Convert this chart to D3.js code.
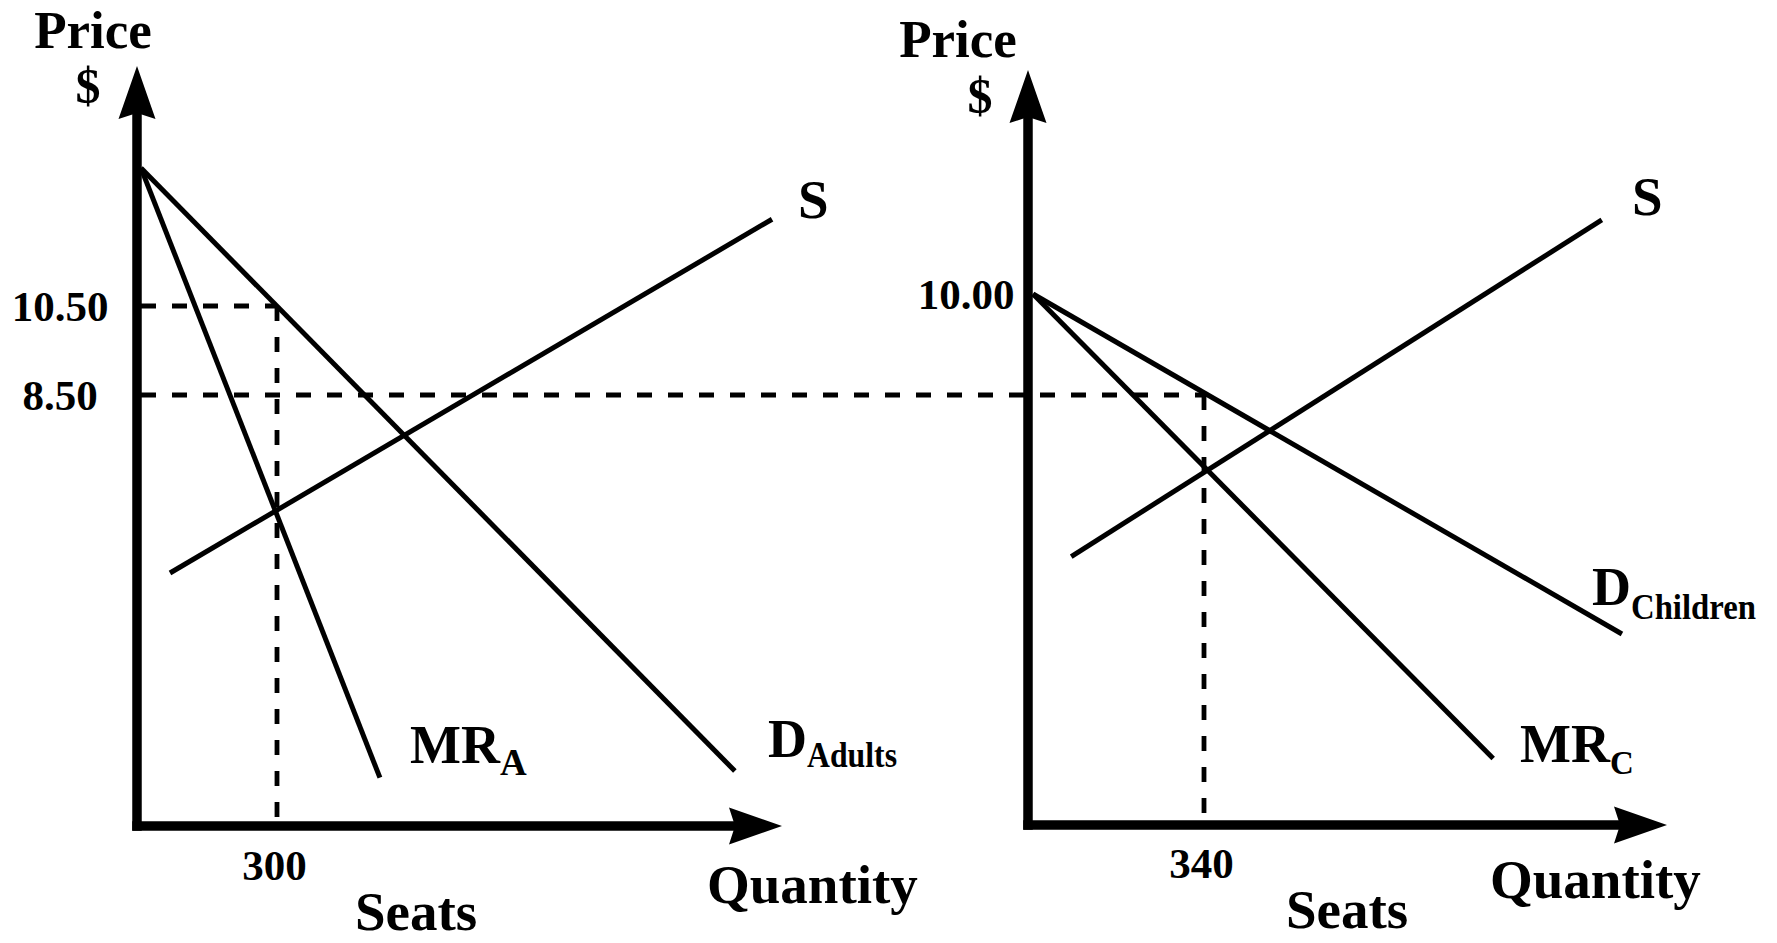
<!DOCTYPE html>
<html>
<head>
<meta charset="utf-8">
<script src="https://cdn.jsdelivr.net/npm/d3@7"></script>
<style>
  html, body { margin: 0; padding: 0; background: #fff; }
  svg { display: block; }
  text { font-family: "Liberation Serif", "Times New Roman", Times, serif; font-weight: bold; fill: #000; }
</style>
</head>
<body>
<svg id="chart" width="1777" height="943"></svg>
<script>
// ---------------- DATA ----------------
// Left panel: Adults market
const adultDemand = [{q: 0, p: 13.6}, {q: 1310, p: 0.05}];
const adultMR     = [{q: 0, p: 13.6}, {q: 527,  p: -0.1}];
const adultSupply = [{q: 64, p: 4.5}, {q: 1392, p: 12.45}];
const adultPriceTicks = [10.5, 8.5];
const adultQtyTicks   = [300];
const adultOptimum    = {q: 300, p: 10.5};

// Right panel: Children market
const childDemand = [{q: 0, p: 10}, {q: 1171, p: 4.95}];
const childMR     = [{q: 0, p: 10}, {q: 915,  p: 3.1}];
const childSupply = [{q: 76, p: 6.1}, {q: 1131, p: 11.1}];
const childPriceTicks = [10];
const childQtyTicks   = [340];
const childOptimum    = {q: 340, p: 8.5};

// Labels
const demandLabels = ["Adults", "Children"];
const mrLabels = ["A", "C"];

// ---------------- LAYOUT ----------------
const svg = d3.select("#chart");
svg.append("rect").attr("width", 1777).attr("height", 943).attr("fill", "#fff");

const panels = [
  {
    demand: adultDemand, mr: adultMR, supply: adultSupply,
    priceTicks: adultPriceTicks, qtyTicks: adultQtyTicks, opt: adultOptimum,
    dLabel: demandLabels[0], mrSub: mrLabels[0],
    x: d3.scaleLinear().domain([0, 300]).range([141, 277]),
    y: d3.scaleLinear().domain([8.5, 10.5]).range([395, 306]),
    axX: 137, axY: 826, topY: 66, rightX: 782,
    priceLbl: [93, 48], dollarLbl: [88, 103],
    yTickCx: 60,
    sLbl: [798, 218],
    mrLbl: [410, 763], mrSubSize: 37,
    dLbl: [768, 757], dSubDy: 10, dSubW: 90,
    qtyLbl: [707, 903], seatsLbl: [416, 930],
    xTickBase: 880, xTickDx: -3
  },
  {
    demand: childDemand, mr: childMR, supply: childSupply,
    priceTicks: childPriceTicks, qtyTicks: childQtyTicks, opt: childOptimum,
    dLabel: demandLabels[1], mrSub: mrLabels[1],
    x: d3.scaleLinear().domain([0, 340]).range([1033, 1204]),
    y: d3.scaleLinear().domain([8.5, 10]).range([395, 294]),
    axX: 1028, axY: 825, topY: 70, rightX: 1667,
    priceLbl: [958, 57], dollarLbl: [980, 113],
    yTickCx: 966,
    sLbl: [1632, 215],
    mrLbl: [1520, 762], mrSubSize: 33,
    dLbl: [1592, 605], dSubDy: 14, dSubW: 125,
    qtyLbl: [1490, 898], seatsLbl: [1347, 928],
    xTickBase: 878, xTickDx: -3
  }
];

const lineW = 5, axisW = 9.5, dash = "15,16", dashW = 4.8;

// 8.50 dashed line spanning both panels (adult y-axis to child optimum)
svg.append("line")
  .attr("x1", panels[0].axX + 4).attr("x2", panels[1].x(childOptimum.q))
  .attr("y1", panels[1].y(childOptimum.p)).attr("y2", panels[1].y(childOptimum.p))
  .attr("stroke", "#000").attr("stroke-width", dashW).attr("stroke-dasharray", dash);

panels.forEach((P, i) => {
  const g = svg.append("g");
  const line = d3.line().x(d => P.x(d.q)).y(d => P.y(d.p));

  // dashed guides
  if (i === 0) {
    g.append("line")
      .attr("x1", P.axX + 4).attr("x2", P.x(P.opt.q))
      .attr("y1", P.y(P.opt.p)).attr("y2", P.y(P.opt.p))
      .attr("stroke", "#000").attr("stroke-width", dashW).attr("stroke-dasharray", dash);
  }
  g.append("line")
    .attr("x1", P.x(P.opt.q)).attr("x2", P.x(P.opt.q))
    .attr("y1", P.y(P.opt.p)).attr("y2", P.axY)
    .attr("stroke", "#000").attr("stroke-width", dashW).attr("stroke-dasharray", dash);

  // curves
  [P.demand, P.mr, P.supply].forEach(dat => {
    g.append("path").attr("d", line(dat))
      .attr("fill", "none").attr("stroke", "#000").attr("stroke-width", lineW);
  });

  // axes lines
  g.append("line").attr("x1", P.axX).attr("x2", P.axX)
    .attr("y1", P.axY + axisW / 2).attr("y2", P.topY + 40)
    .attr("stroke", "#000").attr("stroke-width", axisW);
  g.append("line").attr("x1", P.axX - axisW / 2).attr("x2", P.rightX - 40)
    .attr("y1", P.axY).attr("y2", P.axY)
    .attr("stroke", "#000").attr("stroke-width", axisW);
  // arrowheads
  const ah = 53, hw = 18.5, notch = 6;
  g.append("path")
    .attr("d", `M${P.axX},${P.topY} L${P.axX + hw},${P.topY + ah} L${P.axX},${P.topY + ah - notch} L${P.axX - hw},${P.topY + ah} Z`)
    .attr("fill", "#000");
  g.append("path")
    .attr("d", `M${P.rightX},${P.axY} L${P.rightX - ah},${P.axY + hw} L${P.rightX - ah + notch},${P.axY} L${P.rightX - ah},${P.axY - hw} Z`)
    .attr("fill", "#000");

  // tick labels via d3 axes
  const yAxis = d3.axisLeft(P.y).tickValues(P.priceTicks).tickSize(0).tickFormat(d3.format(".2f"));
  const ya = g.append("g").attr("transform", `translate(${P.axX},0)`).call(yAxis);
  ya.select(".domain").remove();
  ya.selectAll("text")
    .attr("x", P.yTickCx - P.axX).attr("text-anchor", "middle").attr("dy", "0.33em")
    .style("font-size", "43px").style("font-family", '"Liberation Serif", "Times New Roman", serif')
    .style("font-weight", "bold").attr("fill", "#000");

  const xAxis = d3.axisBottom(P.x).tickValues(P.qtyTicks).tickSize(0);
  const xa = g.append("g").attr("transform", `translate(${P.xTickDx},${P.axY})`).call(xAxis);
  xa.select(".domain").remove();
  xa.selectAll("text")
    .attr("y", P.xTickBase - P.axY).attr("dy", "0")
    .style("font-size", "43px").style("font-family", '"Liberation Serif", "Times New Roman", serif')
    .style("font-weight", "bold").attr("fill", "#000");

  // axis titles
  g.append("text").attr("x", P.priceLbl[0]).attr("y", P.priceLbl[1])
    .attr("text-anchor", "middle").style("font-size", "53px").text("Price");
  g.append("text").attr("x", P.dollarLbl[0]).attr("y", P.dollarLbl[1])
    .attr("text-anchor", "middle").style("font-size", "50px").text("$");
  g.append("text").attr("x", P.qtyLbl[0]).attr("y", P.qtyLbl[1])
    .style("font-size", "55px").text("Quantity");
  g.append("text").attr("x", P.seatsLbl[0]).attr("y", P.seatsLbl[1])
    .attr("text-anchor", "middle").style("font-size", "55px").text("Seats");

  // curve labels
  g.append("text").attr("x", P.sLbl[0]).attr("y", P.sLbl[1])
    .style("font-size", "55px").text("S");
  const mr = g.append("text").attr("x", P.mrLbl[0]).attr("y", P.mrLbl[1]).style("font-size", "54px");
  mr.append("tspan").text("MR");
  mr.append("tspan").attr("dy", 12).style("font-size", P.mrSubSize + "px").text(P.mrSub);
  const dl = g.append("text").attr("x", P.dLbl[0]).attr("y", P.dLbl[1]).style("font-size", "54px");
  dl.append("tspan").text("D");
  dl.append("tspan").attr("dy", P.dSubDy).style("font-size", "36px")
    .attr("textLength", P.dSubW).attr("lengthAdjust", "spacingAndGlyphs").text(P.dLabel);
});
</script>
</body>
</html>
